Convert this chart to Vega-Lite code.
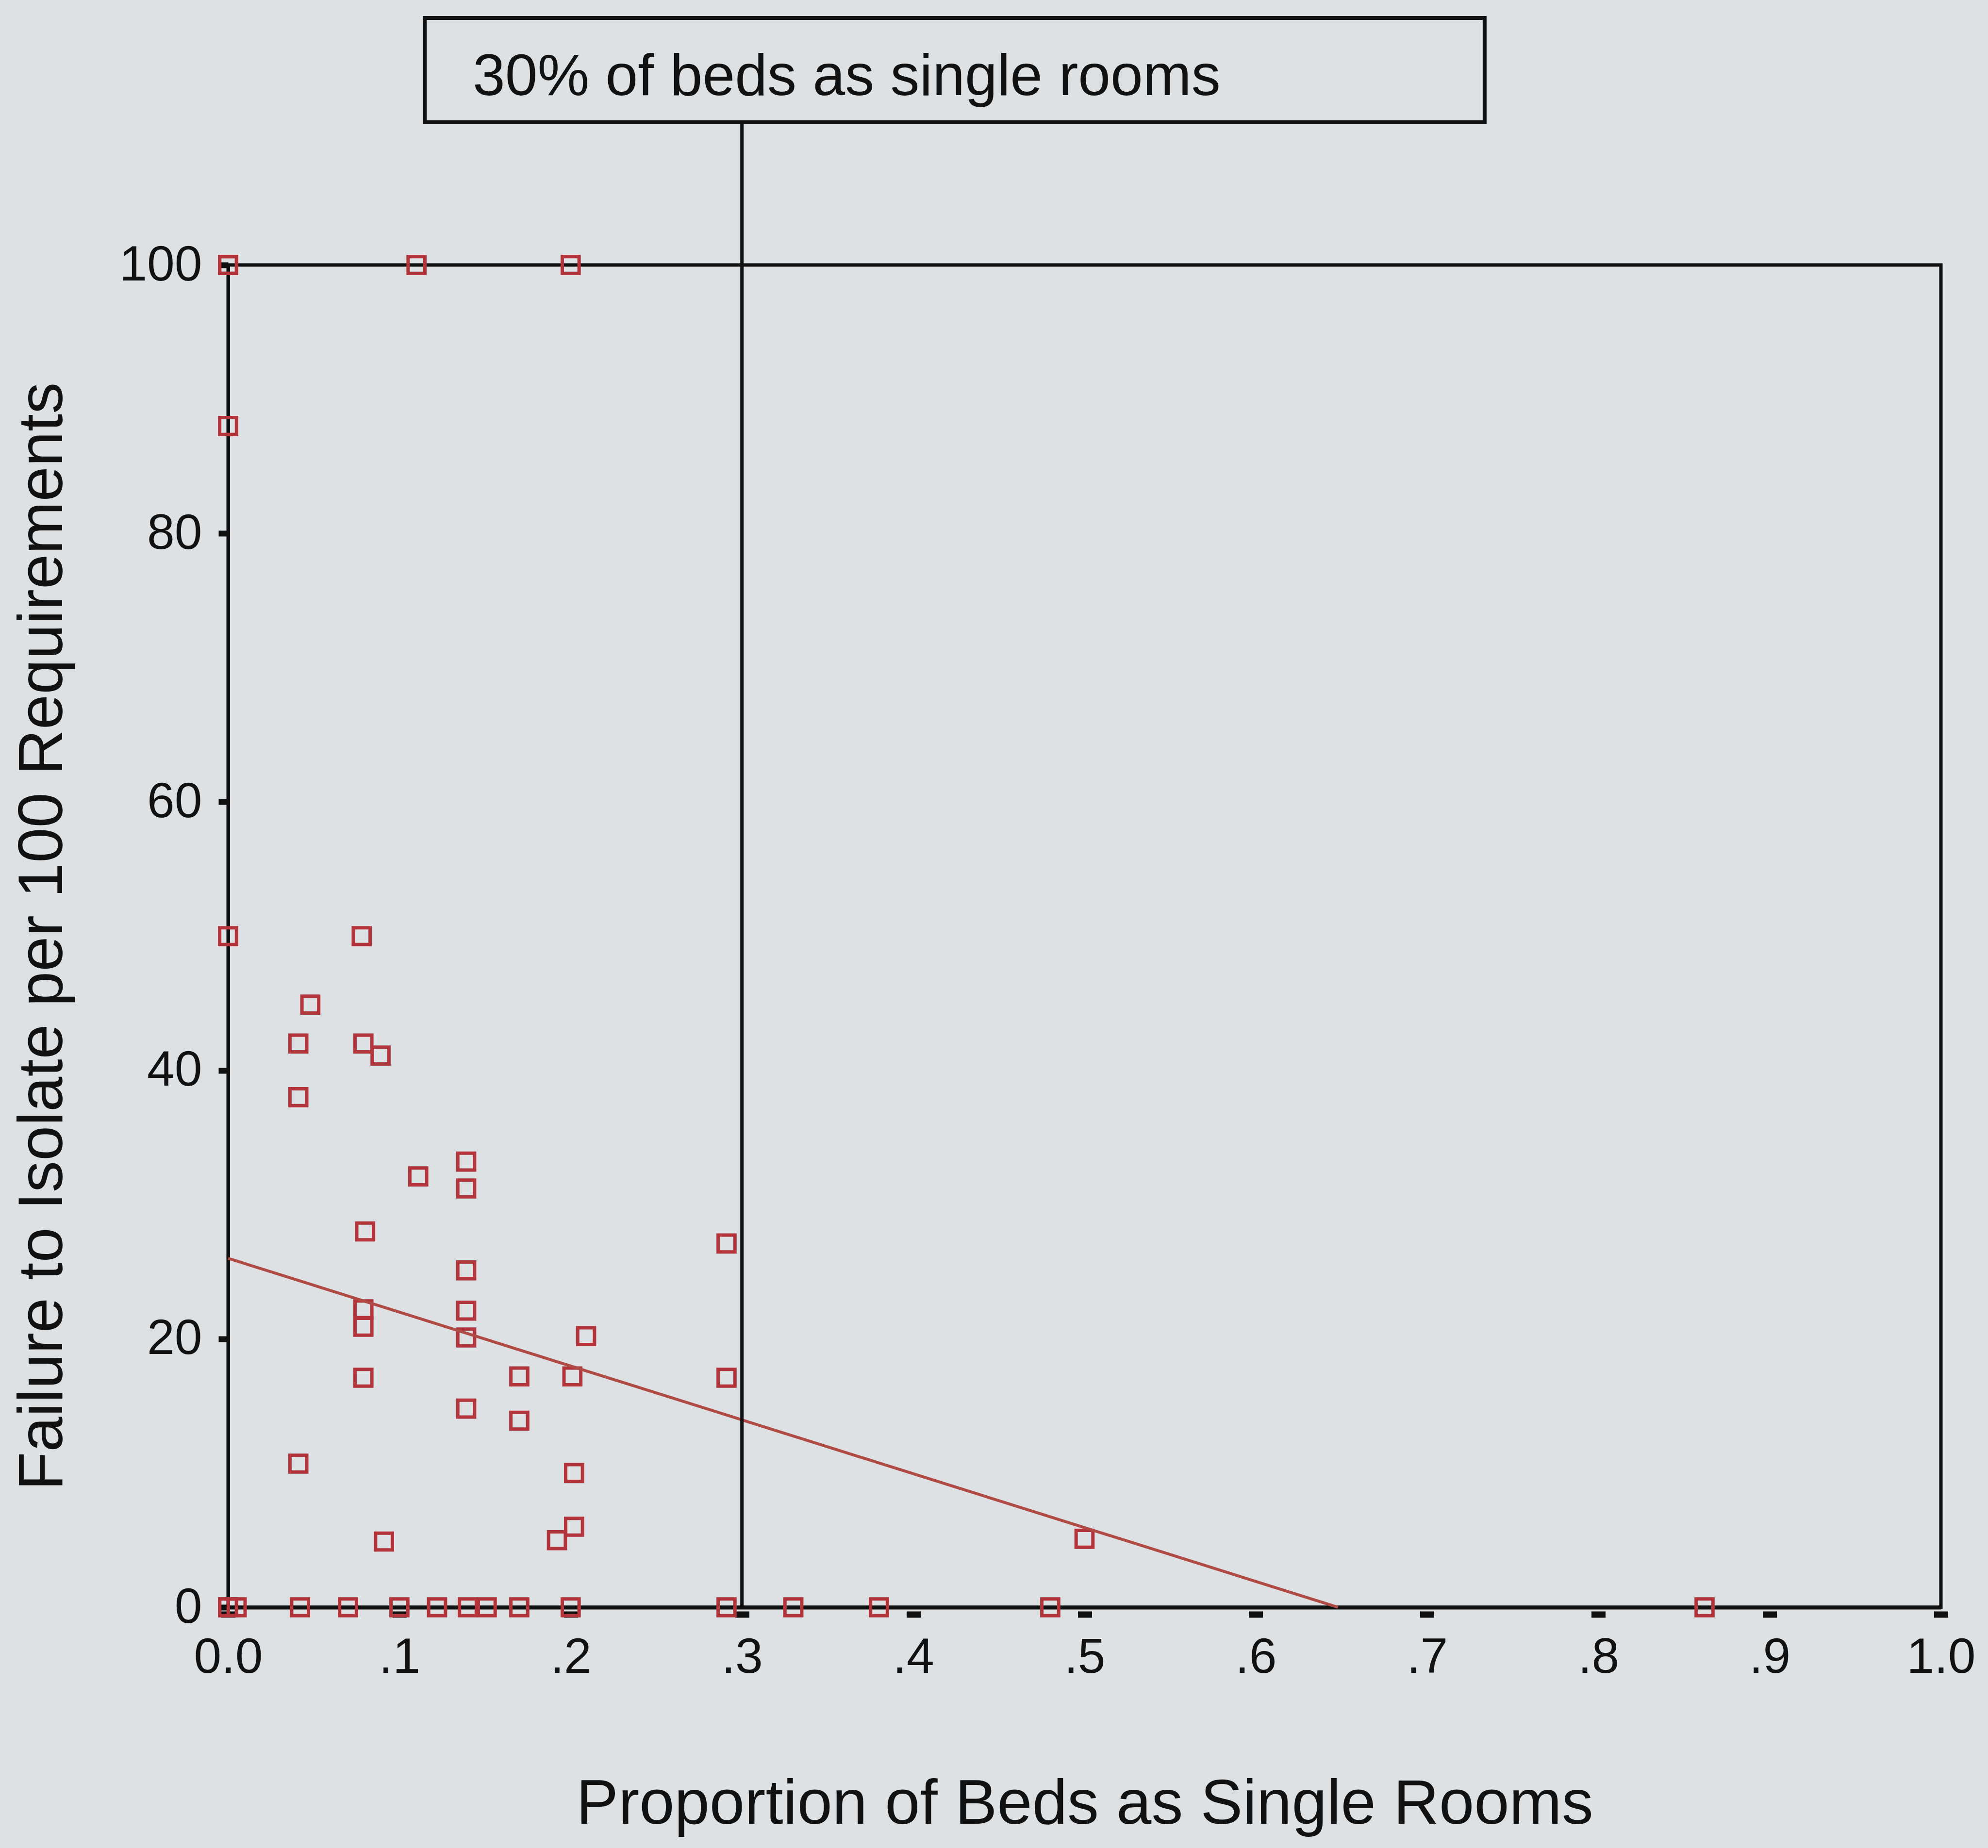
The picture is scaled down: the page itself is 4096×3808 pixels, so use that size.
{
  "$schema": "https://vega.github.io/schema/vega-lite/v6.json",
  "width": 3529,
  "height": 2766,
  "autosize": {"type": "none"},
  "padding": {"left": 470, "top": 546, "right": 97, "bottom": 496},
  "background": "#dde1e4",
  "config": {
    "font": "Liberation Sans",
    "view": {"stroke": "#111111", "strokeWidth": 7, "fill": "#dde1e4"}
  },
  "datasets": {
    "hospitals": [
      {"single_room_share": 0, "failure_rate": 100},
      {"single_room_share": 0, "failure_rate": 100},
      {"single_room_share": 0.11, "failure_rate": 100},
      {"single_room_share": 0.2, "failure_rate": 100},
      {"single_room_share": 0, "failure_rate": 88},
      {"single_room_share": 0, "failure_rate": 50},
      {"single_room_share": 0.078, "failure_rate": 50},
      {"single_room_share": 0.048, "failure_rate": 44.9},
      {"single_room_share": 0.041, "failure_rate": 42},
      {"single_room_share": 0.079, "failure_rate": 42},
      {"single_room_share": 0.089, "failure_rate": 41.1},
      {"single_room_share": 0.041, "failure_rate": 38},
      {"single_room_share": 0.139, "failure_rate": 33.2},
      {"single_room_share": 0.111, "failure_rate": 32.1},
      {"single_room_share": 0.139, "failure_rate": 31.2},
      {"single_room_share": 0.08, "failure_rate": 28},
      {"single_room_share": 0.291, "failure_rate": 27.1},
      {"single_room_share": 0.139, "failure_rate": 25.1},
      {"single_room_share": 0.079, "failure_rate": 22.2},
      {"single_room_share": 0.079, "failure_rate": 20.9},
      {"single_room_share": 0.139, "failure_rate": 22.1},
      {"single_room_share": 0.139, "failure_rate": 20.1},
      {"single_room_share": 0.209, "failure_rate": 20.2},
      {"single_room_share": 0.079, "failure_rate": 17.1},
      {"single_room_share": 0.17, "failure_rate": 17.2},
      {"single_room_share": 0.201, "failure_rate": 17.2},
      {"single_room_share": 0.291, "failure_rate": 17.1},
      {"single_room_share": 0.139, "failure_rate": 14.8},
      {"single_room_share": 0.17, "failure_rate": 13.9},
      {"single_room_share": 0.041, "failure_rate": 10.7},
      {"single_room_share": 0.202, "failure_rate": 10},
      {"single_room_share": 0.091, "failure_rate": 4.9},
      {"single_room_share": 0.192, "failure_rate": 5},
      {"single_room_share": 0.202, "failure_rate": 6},
      {"single_room_share": 0.5, "failure_rate": 5.1},
      {"single_room_share": 0, "failure_rate": 0},
      {"single_room_share": 0, "failure_rate": 0},
      {"single_room_share": 0.005, "failure_rate": 0},
      {"single_room_share": 0.042, "failure_rate": 0},
      {"single_room_share": 0.07, "failure_rate": 0},
      {"single_room_share": 0.1, "failure_rate": 0},
      {"single_room_share": 0.122, "failure_rate": 0},
      {"single_room_share": 0.14, "failure_rate": 0},
      {"single_room_share": 0.151, "failure_rate": 0},
      {"single_room_share": 0.17, "failure_rate": 0},
      {"single_room_share": 0.2, "failure_rate": 0},
      {"single_room_share": 0.291, "failure_rate": 0},
      {"single_room_share": 0.33, "failure_rate": 0},
      {"single_room_share": 0.38, "failure_rate": 0},
      {"single_room_share": 0.48, "failure_rate": 0},
      {"single_room_share": 0.862, "failure_rate": 0}
    ],
    "fit": [
      {"single_room_share": 0, "fitted": 26.0},
      {"single_room_share": 0.648, "fitted": 0}
    ],
    "threshold": [
      {"share": 0.3, "label": "30% of beds as single rooms"}
    ]
  },
  "layer": [
    {
      "data": {"name": "hospitals"},
      "mark": {"type": "point", "shape": "square", "filled": false, "size": 1200, "strokeWidth": 7, "color": "#b3343a", "opacity": 1},
      "encoding": {
        "x": {
          "field": "single_room_share",
          "type": "quantitative",
          "title": "Proportion of Beds as Single Rooms",
          "scale": {"domain": [0, 1], "nice": false, "zero": false},
          "axis": {
            "values": [0, 0.1, 0.2, 0.3, 0.4, 0.5, 0.6, 0.7, 0.8, 0.9, 1],
            "labelExpr": "datum.value == 0 ? '0.0' : datum.value == 1 ? '1.0' : replace(format(datum.value, '.1f'), '0.', '.')",
            "grid": false,
            "domainColor": "#111111",
            "domainWidth": 8,
            "tickColor": "#111111",
            "tickSize": 21,
            "tickWidth": 29,
            "tickDash": [0, 8, 13],
            "labelFontSize": 102,
            "labelColor": "#111111",
            "labelPadding": 32,
            "labelFlush": false,
            "labelOverlap": false,
            "titleFontSize": 130,
            "titleFontWeight": "normal",
            "titleColor": "#111111",
            "titlePadding": 188
          }
        },
        "y": {
          "field": "failure_rate",
          "type": "quantitative",
          "title": "Failure to Isolate per 100 Requirements",
          "scale": {"domain": [0, 100], "nice": false, "zero": false},
          "axis": {
            "values": [0, 20, 40, 60, 80, 100],
            "grid": false,
            "domainColor": "#111111",
            "domainWidth": 7,
            "tickColor": "#111111",
            "tickSize": 20,
            "tickWidth": 12,
            "labelFontSize": 102,
            "labelColor": "#111111",
            "labelPadding": 34,
            "labelFlush": false,
            "labelOverlap": false,
            "titleFontSize": 130,
            "titleFontWeight": "normal",
            "titleColor": "#111111",
            "titlePadding": 116
          }
        }
      }
    },
    {
      "data": {"name": "fit"},
      "mark": {"type": "line", "color": "#b04a45", "strokeWidth": 6},
      "encoding": {
        "x": {"field": "single_room_share", "type": "quantitative", "title": "Proportion of Beds as Single Rooms", "scale": {"domain": [0, 1], "nice": false, "zero": false}},
        "y": {"field": "fitted", "type": "quantitative", "title": "Failure to Isolate per 100 Requirements", "scale": {"domain": [0, 100], "nice": false, "zero": false}}
      }
    },
    {
      "data": {"name": "threshold"},
      "mark": {"type": "rule", "color": "#111111", "strokeWidth": 7},
      "encoding": {
        "x": {"field": "share", "type": "quantitative", "title": "Proportion of Beds as Single Rooms", "scale": {"domain": [0, 1], "nice": false, "zero": false}},
        "y": {"datum": 0, "type": "quantitative", "title": "Failure to Isolate per 100 Requirements", "scale": {"domain": [0, 100], "nice": false, "zero": false}},
        "y2": {"datum": 110.63}
      }
    },
    {
      "data": {"name": "threshold"},
      "mark": {"type": "rect", "fill": null, "fillOpacity": 0, "stroke": "#111111", "strokeWidth": 8},
      "encoding": {
        "x": {"datum": 0.1148, "type": "quantitative", "title": "Proportion of Beds as Single Rooms", "scale": {"domain": [0, 1], "nice": false, "zero": false}},
        "x2": {"datum": 0.7336},
        "y": {"datum": 110.63, "type": "quantitative", "title": "Failure to Isolate per 100 Requirements", "scale": {"domain": [0, 100], "nice": false, "zero": false}},
        "y2": {"datum": 118.4}
      }
    },
    {
      "data": {"name": "threshold"},
      "mark": {"type": "text", "align": "left", "baseline": "alphabetic", "fontSize": 120, "color": "#111111"},
      "encoding": {
        "x": {"datum": 0.1428, "type": "quantitative", "title": "Proportion of Beds as Single Rooms", "scale": {"domain": [0, 1], "nice": false, "zero": false}},
        "y": {"datum": 112.65, "type": "quantitative", "title": "Failure to Isolate per 100 Requirements", "scale": {"domain": [0, 100], "nice": false, "zero": false}},
        "text": {"field": "label"}
      }
    }
  ]
}
